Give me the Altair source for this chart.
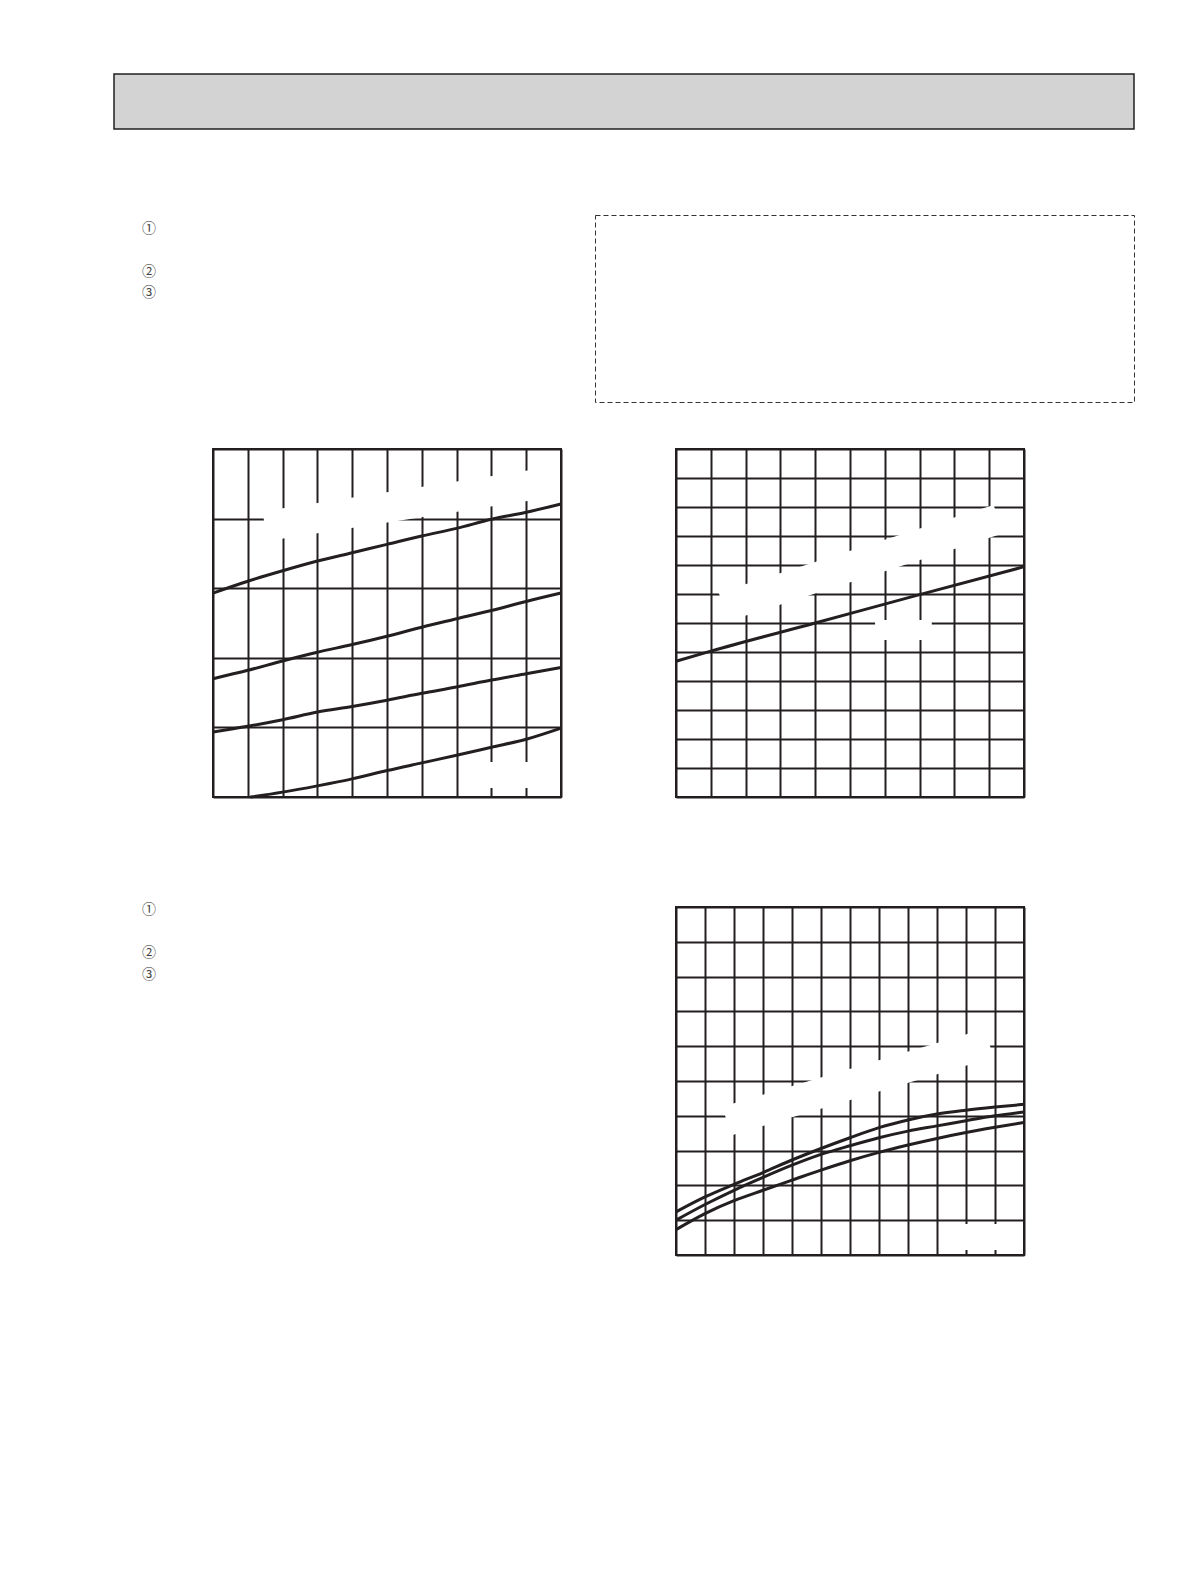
import altair as alt
import pandas as pd

INK = "#231f20"

# ---------------- data (grid units) ----------------
# Chart 1 (upper left): x 0..10 cells, y 0..5 cells, four curves
c1_x = [0, 1, 2, 3, 4, 5, 6, 7, 8, 9, 10]
c1_a = [2.93, 3.10, 3.25, 3.39, 3.51, 3.63, 3.75, 3.86, 3.99, 4.09, 4.21]
c1_b = [1.70, 1.82, 1.955, 2.08, 2.19, 2.31, 2.44, 2.56, 2.68, 2.81, 2.93]
c1_c = [0.935, 1.016, 1.11, 1.22, 1.30, 1.39, 1.49, 1.58, 1.68, 1.77, 1.86]
c1_d_x = [1.07, 2, 3, 4, 5, 6, 7, 8, 9, 10]
c1_d = [0.00, 0.07, 0.16, 0.26, 0.38, 0.49, 0.60, 0.715, 0.83, 0.99]

# Chart 2 (upper right): x 0..10 cells, y 0..12 cells, one straight line
c2_x = [0, 1, 4, 7, 10]
c2_y = [4.68, 5.03, 6.00, 6.98, 7.94]

# Chart 3 (lower right): x 0..12 cells, y 0..10 cells, three curves
c3_x = [0, 1, 2, 3, 4, 5, 6, 7, 8, 9, 10, 11, 12]
c3_u = [1.24, 1.67, 2.03, 2.37, 2.73, 3.06, 3.37, 3.66, 3.88, 4.05, 4.16, 4.25, 4.33]
c3_m = [1.00, 1.45, 1.86, 2.23, 2.58, 2.89, 3.14, 3.37, 3.56, 3.71, 3.86, 4.00, 4.11]
c3_l = [0.73, 1.19, 1.56, 1.86, 2.15, 2.44, 2.71, 2.95, 3.16, 3.35, 3.52, 3.67, 3.81]

# blank label areas (white patches where labels were), in data units
c1_band_x = [1.49, 9.20]
c1_band_y = [3.89, 4.485]
c1_box_x = [7.67, 9.40]
c1_box_y = [0.316, 0.316]

c2_band_x = [1.36, 9.26]
c2_band_y = [6.55, 9.58]
c2_box_x = [5.72, 7.35]
c2_box_y = [5.76, 5.76]

c3_band_x = [1.75, 10.80]
c3_band_y = [3.85, 6.09]
c3_box_x = [9.60, 11.40]
c3_box_y = [0.517, 0.517]

# circled item markers (line index within the text block)
marks = ["①", "②", "③"]
marks_line = [0, 2, 3]

NOSTROKE = alt.ViewBackground(stroke="transparent", strokeWidth=0)
EMPTY = pd.DataFrame({"v": pd.Series([], dtype="float64")})


def series_df(pairs):
    rows = []
    for name, xs, ys in pairs:
        for x, y in zip(xs, ys):
            rows.append({"s": name, "x": x, "y": y})
    return pd.DataFrame(rows)


def xy_df(xs, ys):
    return pd.DataFrame({"x": xs, "y": ys})


def panel(curves_df, band_df, box_df, xmax, ymax, box_w):
    xs = alt.Scale(domain=[0, xmax], nice=False, zero=False)
    ys = alt.Scale(domain=[0, ymax], nice=False, zero=False)
    xa = alt.Axis(values=list(range(xmax + 1)), grid=True, labels=False, ticks=False,
                  domain=False, title=None, gridColor=INK, gridWidth=2, gridOpacity=1)
    ya = alt.Axis(values=list(range(ymax + 1)), grid=True, labels=False, ticks=False,
                  domain=False, title=None, gridColor=INK, gridWidth=2, gridOpacity=1)
    X = alt.X("x:Q", scale=xs, axis=xa)
    Y = alt.Y("y:Q", scale=ys, axis=ya)
    band = alt.Chart(band_df).mark_line(color="white", strokeWidth=30, strokeCap="butt").encode(x=X, y=Y)
    box = alt.Chart(box_df).mark_line(color="white", strokeWidth=box_w, strokeCap="butt").encode(x=X, y=Y)
    lines = alt.Chart(curves_df).mark_line(color=INK, strokeWidth=3, interpolate="monotone").encode(
        x=X, y=Y, detail="s:N")
    return alt.layer(band, box, lines).properties(
        width=348, height=348,
        view=alt.ViewBackground(stroke=INK, strokeWidth=2))


def blank(w, h, view=NOSTROKE):
    return alt.Chart(EMPTY).mark_point(opacity=0).properties(width=w, height=h, view=view)


def markers(w, h, d0, d1):
    df = pd.DataFrame({"label": marks, "line": marks_line})
    return alt.Chart(df).mark_text(font="Noto Sans CJK JP", fontSize=14, color="#444").encode(
        x=alt.value(141),
        y=alt.Y("line:Q", scale=alt.Scale(domain=[d0, d1], range=[0, h]), axis=None),
        text="label:N",
    ).properties(width=w, height=h, view=NOSTROKE)


chart1 = panel(
    series_df([("A", c1_x, c1_a), ("B", c1_x, c1_b), ("C", c1_x, c1_c), ("D", c1_d_x, c1_d)]),
    xy_df(c1_band_x, c1_band_y), xy_df(c1_box_x, c1_box_y), 10, 5, 26)

chart2 = panel(
    series_df([("A", c2_x, c2_y)]),
    xy_df(c2_band_x, c2_band_y), xy_df(c2_box_x, c2_box_y), 10, 12, 20)

chart3 = panel(
    series_df([("U", c3_x, c3_u), ("M", c3_x, c3_m), ("L", c3_x, c3_l)]),
    xy_df(c3_band_x, c3_band_y), xy_df(c3_box_x, c3_box_y), 12, 10, 26)

header = blank(1020, 55, alt.ViewBackground(fill="#d3d3d3", stroke=INK, strokeWidth=1.5))
dashed = blank(539, 187, alt.ViewBackground(stroke="#333333", strokeWidth=1, strokeDash=[5, 3]))

row_header = alt.hconcat(blank(106, 55), header, spacing=0, bounds="flush")
row_notes = alt.hconcat(markers(587, 187, -0.625, 8.032), dashed, spacing=0, bounds="flush")
row_charts = alt.hconcat(blank(205, 348), chart1, blank(115, 348), chart2, spacing=0, bounds="flush")
row_lower = alt.hconcat(markers(668, 348, -0.138, 15.9), chart3, spacing=0, bounds="flush")

chart = alt.vconcat(
    blank(1, 65),
    row_header,
    blank(1, 84),
    row_notes,
    blank(1, 20),
    row_charts,
    blank(1, 73),
    row_lower,
    spacing=0,
    padding=0,
).configure(background="white").configure_view(stroke="transparent")

chart.save("out.html", embed_options={"renderer": "svg", "actions": False})
